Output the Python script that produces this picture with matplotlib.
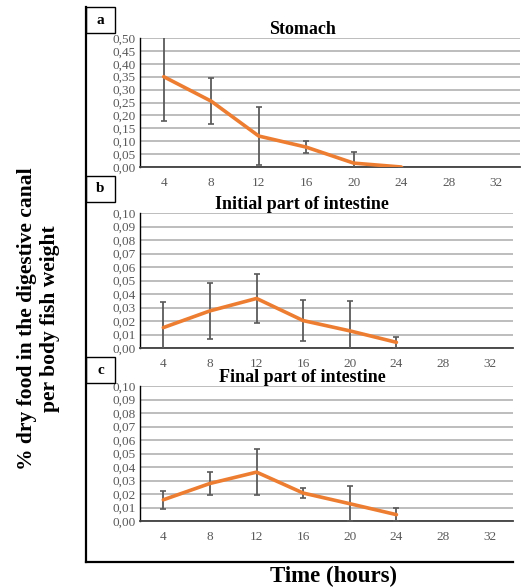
import numpy as np
import matplotlib
matplotlib.use('Agg')
import matplotlib.pyplot as plt
from matplotlib.lines import Line2D
from matplotlib.patches import Rectangle
from matplotlib.ticker import FuncFormatter

# data
hours = [4, 8, 12, 16, 20, 24]
xticks = [4, 8, 12, 16, 20, 24, 28, 32]

stomach = [0.35, 0.255, 0.12, 0.077, 0.015, 0.0]
stomach_err = [0.17, 0.09, 0.113, 0.023, 0.045, 0.0]

initial = [0.0151, 0.0275, 0.0367, 0.0203, 0.0127, 0.0042]
initial_err = [0.019, 0.021, 0.018, 0.015, 0.022, 0.0040]

final = [0.0157, 0.0278, 0.0362, 0.0207, 0.0128, 0.0047]
final_err = [0.0065, 0.0088, 0.0173, 0.004, 0.0128, 0.0047]

titles = ['Stomach', 'Initial part of intestine', 'Final part of intestine']
letters = ['a', 'b', 'c']

W, H = 523, 588
fig = plt.figure(figsize=(W / 100, H / 100), dpi=100)
plt.rcParams['font.family'] = ['Liberation Serif', 'DejaVu Serif']

# panel boxes in pixels: left, right, top, bottom
boxes = [(140, 520, 38, 167), (140, 513, 213, 348), (140, 513, 386, 521)]
ymax = [0.50, 0.10, 0.10]
ystep = [0.05, 0.01, 0.01]
series = [(stomach, stomach_err), (initial, initial_err), (final, final_err)]
letter_top = [7, 176, 357]

fmt = FuncFormatter(lambda v, p: ('%.2f' % v).replace('.', ','))

for i in range(3):
    l, r, t, b = boxes[i]
    ax = fig.add_axes([l / W, 1 - b / H, (r - l) / W, (b - t) / H])
    y, e = series[i]
    ax.errorbar(hours, y, yerr=e, fmt='none', ecolor='#5a5a5a', elinewidth=1.3,
                capsize=2.5, capthick=1.2, zorder=3)
    ax.plot(hours, y, color='#ed7d31', lw=2.6, zorder=4, solid_capstyle='round')
    ax.set_xlim(2, 34)
    ax.set_ylim(0, ymax[i])
    ax.set_xticks(xticks)
    ax.set_yticks(np.arange(0, ymax[i] + ystep[i] / 2, ystep[i]))
    ax.yaxis.set_major_formatter(fmt)
    ax.grid(axis='y', color='#b8b8b8', lw=1.3)
    ax.set_axisbelow(True)
    ax.tick_params(length=0, labelsize=9.5, colors='#595959', pad=3)
    ax.tick_params(axis='x', pad=7)
    for s in ['top', 'right']:
        ax.spines[s].set_visible(False)
    ax.spines['left'].set_color('#000000')
    ax.spines['left'].set_linewidth(1.0)
    ax.spines['bottom'].set_color('#404040')
    ax.spines['bottom'].set_linewidth(1.3)
    ax.set_title(titles[i], fontsize=13, fontweight='bold', x=(302 - l) / (r - l),
                 pad=3)

    # letter box
    lt = letter_top[i]
    fig.patches.append(Rectangle((86 / W, 1 - (lt + 26) / H), 29 / W, 26 / H,
                                 transform=fig.transFigure, fill=False,
                                 edgecolor='black', lw=1.0))
    fig.text(100.5 / W, 1 - (lt + 13) / H, letters[i], fontsize=11,
             fontweight='bold', ha='center', va='center')

# outer frame (left and bottom)
fig.add_artist(Line2D([86 / W, 86 / W], [1 - 7 / H, 1 - 562 / H], color='black', lw=1.6))
fig.add_artist(Line2D([86 / W, 513 / W], [1 - 562 / H, 1 - 562 / H], color='black', lw=1.6))

fig.text(39 / W, 1 - 319 / H, '% dry food in the digestive canal\nper body fish weight',
         rotation=90, ha='center', va='center', fontsize=15.5, fontweight='bold',
         linespacing=1.2)
fig.text(334 / W, 1 - 576 / H, 'Time (hours)', ha='center', va='center',
         fontsize=16.5, fontweight='bold')

fig.savefig('out.png', dpi=100)
